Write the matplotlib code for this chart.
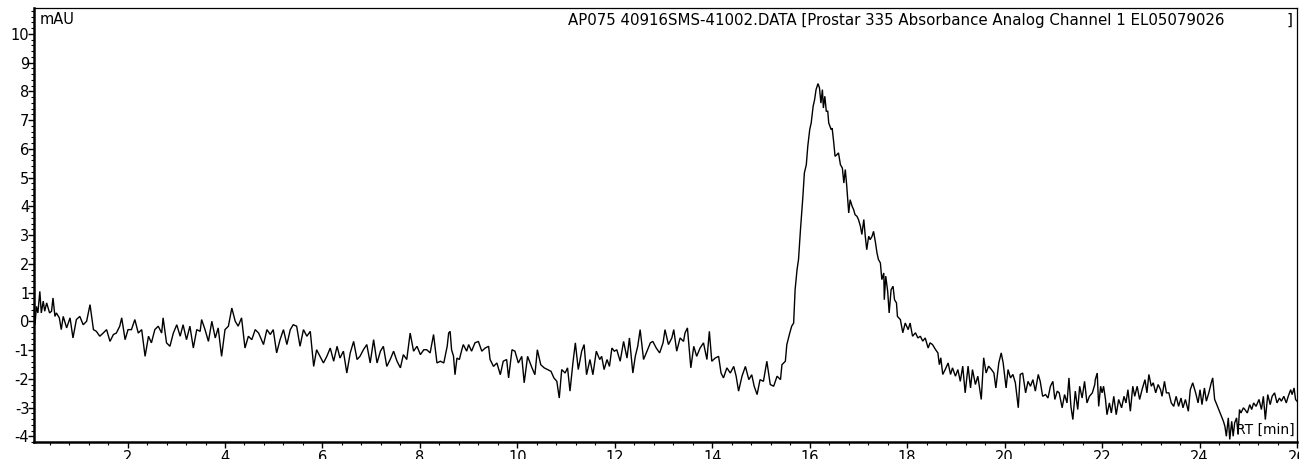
import matplotlib
matplotlib.use("Agg")
import matplotlib.pyplot as plt
from matplotlib.ticker import MultipleLocator, FixedLocator
import numpy as np

# ---------------- data ----------------
rt_seg1 = [0.06, 0.10, 0.13, 0.16, 0.20, 0.23, 0.27, 0.30, 0.34, 0.40,
           0.44, 0.47, 0.51, 0.54, 0.60, 0.64, 0.68, 0.75, 0.82, 0.88,
           0.95, 1.02, 1.09, 1.16, 1.23, 1.30, 1.36, 1.43, 1.50, 1.57,
           1.64, 1.71, 1.77, 1.84, 1.88, 1.95, 2.01, 2.08, 2.15, 2.22,
           2.29, 2.36, 2.43, 2.49, 2.56, 2.63, 2.70, 2.73, 2.80, 2.87,
           2.94, 3.01, 3.08, 3.14, 3.21, 3.28, 3.35, 3.42, 3.49, 3.52,
           3.59, 3.66, 3.73, 3.80, 3.86, 3.93, 4.00, 4.07, 4.14, 4.21,
           4.27, 4.34, 4.41, 4.48, 4.55, 4.62, 4.69, 4.79, 4.86, 4.93,
           4.99, 5.06, 5.13, 5.20, 5.27, 5.34, 5.40, 5.47, 5.54, 5.61,
           5.68, 5.75, 5.82, 5.88, 5.95, 6.02, 6.09, 6.16, 6.23, 6.30,
           6.36, 6.43, 6.50, 6.57, 6.64, 6.71, 6.77, 6.84, 6.91, 6.98,
           7.05, 7.12, 7.19, 7.25, 7.32, 7.39, 7.46, 7.53, 7.60, 7.66,
           7.73, 7.80, 7.87, 7.94, 8.01, 8.08, 8.14, 8.21, 8.28, 8.35,
           8.42, 8.49, 8.56, 8.59]
mau_seg1 = [0.41, -0.12, 0.52, 0.29, 1.04, 0.29, 0.70, 0.35, 0.64, 0.29,
            0.35, 0.81, 0.17, 0.29, 0.12, -0.29, 0.17, -0.23, 0.12, -0.58,
            0.06, 0.17, -0.12, 0.00, 0.58, -0.29, -0.35, -0.52, -0.41, -0.29,
            -0.70, -0.46, -0.41, -0.17, 0.12, -0.64, -0.29, -0.29, 0.06, -0.41,
            -0.29, -1.22, -0.52, -0.75, -0.29, -0.17, -0.41, 0.12, -0.75, -0.87,
            -0.41, -0.12, -0.52, -0.12, -0.64, -0.17, -0.93, -0.29, -0.35, 0.06,
            -0.29, -0.70, 0.00, -0.58, -0.23, -1.22, -0.29, -0.17, 0.46, 0.00,
            -0.17, 0.12, -0.93, -0.52, -0.64, -0.29, -0.41, -0.81, -0.29, -0.46,
            -0.29, -1.10, -0.64, -0.29, -0.81, -0.29, -0.12, -0.17, -0.87, -0.29,
            -0.52, -0.35, -1.57, -0.99, -1.22, -1.45, -1.22, -0.93, -1.39, -0.87,
            -1.28, -1.04, -1.80, -1.10, -0.70, -1.33, -1.22, -0.99, -0.81, -1.45,
            -0.64, -1.45, -1.04, -0.87, -1.57, -1.33, -1.04, -1.39, -1.62, -1.16,
            -1.33, -0.41, -1.04, -0.87, -1.16, -0.99, -0.99, -1.10, -0.46, -1.45,
            -1.39, -1.45, -0.87, -0.41]

rt_seg2 = [8.62, 8.65, 8.69, 8.72, 8.76, 8.81, 8.86, 8.89, 8.96, 9.00,
           9.06, 9.13, 9.20, 9.27, 9.34, 9.41, 9.44, 9.51, 9.58, 9.65,
           9.71, 9.78, 9.82, 9.89, 9.95, 10.02, 10.09, 10.14, 10.21, 10.30,
           10.36, 10.41, 10.48, 10.55, 10.62, 10.69, 10.75, 10.81, 10.86, 10.91,
           10.98, 11.03, 11.08, 11.14, 11.19, 11.25, 11.32, 11.37, 11.42, 11.49,
           11.55, 11.62, 11.69, 11.73, 11.78, 11.84, 11.89, 11.94, 11.99, 12.04,
           12.11, 12.18, 12.25, 12.30, 12.37, 12.42, 12.47, 12.52, 12.59, 12.66,
           12.73, 12.78, 12.85, 12.92, 12.99, 13.03, 13.10, 13.17, 13.21, 13.27,
           13.34, 13.41, 13.44, 13.49, 13.56, 13.62, 13.68, 13.75, 13.82, 13.89,
           13.94, 13.99, 14.06, 14.13, 14.18, 14.23, 14.30, 14.37, 14.44, 14.49,
           14.54, 14.61, 14.68, 14.75, 14.81, 14.86, 14.92, 14.98, 15.05, 15.12,
           15.19, 15.26, 15.33, 15.40, 15.43, 15.50, 15.53, 15.59, 15.63, 15.67]
mau_seg2 = [-0.35, -0.99, -1.22, -1.86, -1.28, -1.33, -0.99, -0.81, -1.04, -0.81,
            -1.04, -0.75, -0.70, -1.04, -0.93, -0.87, -1.33, -1.57, -1.45, -1.86,
            -1.39, -1.33, -1.97, -0.99, -1.04, -1.45, -1.22, -2.14, -1.22, -1.62,
            -1.86, -0.99, -1.51, -1.62, -1.68, -1.74, -1.97, -2.09, -2.67, -1.68,
            -1.80, -1.62, -2.43, -1.45, -0.75, -1.68, -1.04, -0.81, -1.86, -1.33,
            -1.86, -1.04, -1.33, -1.22, -1.68, -1.33, -1.57, -0.93, -1.04, -0.99,
            -1.39, -0.70, -1.28, -0.58, -1.80, -1.22, -0.87, -0.29, -1.33, -1.04,
            -0.75, -0.70, -0.93, -1.10, -0.75, -0.29, -0.81, -0.58, -0.29, -1.04,
            -0.58, -0.70, -0.41, -0.23, -1.62, -0.87, -1.22, -0.93, -0.75, -1.33,
            -0.35, -1.39, -1.28, -1.22, -1.80, -1.97, -1.62, -1.80, -1.57, -1.91,
            -2.43, -1.91, -1.57, -2.03, -1.86, -2.26, -2.55, -2.03, -2.09, -1.39,
            -2.20, -2.26, -1.91, -2.03, -1.51, -1.39, -0.81, -0.41, -0.17, -0.06]

rt_peak = [15.70, 15.74, 15.77, 15.81, 15.86, 15.89, 15.93, 15.96, 16.00, 16.03,
           16.07, 16.10, 16.13, 16.17, 16.20, 16.23, 16.26, 16.28, 16.31, 16.34,
           16.37, 16.39, 16.44, 16.46, 16.49, 16.52, 16.56, 16.59, 16.63, 16.67,
           16.70, 16.73, 16.76, 16.80, 16.83, 16.87, 16.90, 16.93, 16.97, 17.00,
           17.04, 17.07, 17.11, 17.14, 17.17, 17.21, 17.24, 17.28, 17.31, 17.35,
           17.38, 17.41, 17.45, 17.48, 17.52, 17.53, 17.56, 17.60, 17.63, 17.67,
           17.71, 17.74, 17.78, 17.80]
mau_peak = [1.10, 1.80, 2.15, 3.19, 4.35, 5.16, 5.45, 6.09, 6.67, 6.90,
            7.48, 7.71, 8.06, 8.27, 8.12, 7.59, 8.06, 7.42, 7.83, 7.31,
            7.31, 6.90, 6.67, 6.72, 6.26, 5.74, 5.80, 5.86, 5.45, 5.33,
            4.81, 5.28, 4.70, 3.77, 4.23, 4.00, 3.89, 3.71, 3.65, 3.54,
            3.31, 3.02, 3.54, 2.96, 2.49, 2.96, 2.84, 2.96, 3.13, 2.73,
            2.38, 2.15, 2.03, 1.45, 1.68, 0.75, 1.57, 1.04, 0.29, 1.10,
            1.22, 0.75, 0.64, 0.17]

rt_seg4 = [17.86, 17.91, 17.96, 18.02, 18.06, 18.11, 18.17, 18.22, 18.27, 18.32,
           18.37, 18.43, 18.47, 18.52, 18.58, 18.63, 18.66, 18.69, 18.73, 18.78,
           18.84, 18.89, 18.93, 18.99, 19.04, 19.09, 19.14, 19.19, 19.25, 19.30,
           19.34, 19.40, 19.45, 19.52, 19.57, 19.62, 19.67, 19.73, 19.78, 19.82,
           19.88, 19.93, 19.97, 20.03, 20.07, 20.12, 20.17, 20.22, 20.28, 20.32,
           20.37, 20.43, 20.48, 20.53, 20.58, 20.63, 20.69, 20.73, 20.78, 20.84,
           20.89, 20.94, 20.99, 21.03, 21.08, 21.12, 21.18, 21.23, 21.28, 21.32,
           21.36, 21.40, 21.45, 21.50, 21.54, 21.59, 21.64, 21.69, 21.74, 21.80,
           21.85]
mau_seg4 = [0.06, -0.40, -0.06, -0.29, -0.06, -0.52, -0.40, -0.58, -0.52, -0.69,
            -0.58, -0.93, -0.75, -0.81, -0.98, -1.10, -1.51, -1.27, -1.85, -1.68,
            -1.45, -1.85, -1.62, -1.91, -1.68, -2.09, -1.56, -2.49, -1.56, -2.32,
            -1.68, -2.20, -1.91, -2.72, -1.27, -1.80, -1.56, -1.68, -1.80, -2.32,
            -1.45, -1.10, -1.45, -2.32, -1.68, -1.97, -1.85, -2.14, -3.01, -1.85,
            -1.80, -2.49, -2.09, -2.26, -2.03, -2.43, -1.85, -2.09, -2.61, -2.55,
            -2.67, -2.26, -2.09, -2.72, -2.43, -2.49, -3.01, -2.55, -2.84, -1.97,
            -2.96, -3.42, -2.43, -3.07, -2.26, -2.67, -2.09, -2.84, -2.61, -2.49,
            -2.20]

rt_seg5 = [21.86, 21.90, 21.93, 21.97, 22.00, 22.03, 22.07, 22.10, 22.15, 22.19,
           22.24, 22.29, 22.34, 22.40, 22.45, 22.49, 22.53, 22.58, 22.63, 22.67,
           22.72, 22.77, 22.82, 22.88, 22.92, 22.96, 23.01, 23.05, 23.10, 23.15,
           23.20, 23.23, 23.28, 23.32, 23.37, 23.42, 23.47, 23.52, 23.57, 23.62,
           23.66, 23.71, 23.77, 23.81, 23.86, 23.92, 23.97, 24.01, 24.05, 24.10,
           24.14, 24.19, 24.24, 24.27, 24.31, 24.34, 24.38, 24.41, 24.45, 24.49,
           24.52, 24.55, 24.59, 24.62, 24.66, 24.69, 24.72, 24.76, 24.79, 24.82,
           24.85, 24.90, 24.93, 24.98, 25.03, 25.07, 25.11, 25.16, 25.22, 25.27,
           25.31, 25.35, 25.40, 25.45, 25.49, 25.54, 25.59, 25.64, 25.68, 25.73,
           25.78, 25.82, 25.87, 25.90, 25.94, 25.97, 26.00]
mau_seg5 = [-2.03, -1.80, -2.96, -2.26, -2.49, -2.26, -2.72, -3.25, -2.84, -3.19,
            -2.61, -3.25, -2.72, -3.01, -2.61, -2.84, -2.38, -3.13, -2.26, -2.61,
            -2.26, -2.72, -2.38, -2.03, -2.49, -1.85, -2.26, -2.14, -2.49, -2.20,
            -2.38, -2.61, -2.09, -2.49, -2.49, -2.84, -2.96, -2.61, -2.96, -2.67,
            -3.01, -2.72, -3.13, -2.38, -2.14, -2.49, -2.84, -2.38, -2.90, -2.32,
            -2.78, -2.49, -2.14, -1.97, -2.72, -2.84, -3.01, -3.13, -3.30, -3.48,
            -3.65, -4.00, -3.36, -4.11, -3.48, -4.00, -3.54, -3.36, -3.94, -3.07,
            -3.19, -3.01, -3.07, -3.19, -2.90, -3.07, -2.84, -2.96, -2.72, -3.07,
            -2.61, -3.42, -2.55, -2.90, -2.61, -2.49, -2.84, -2.67, -2.78, -2.61,
            -2.84, -2.61, -2.38, -2.55, -2.32, -2.72, -2.78]

x_tick_values = [2, 4, 6, 8, 10, 12, 14, 16, 18, 20, 22, 24, 26]
y_tick_values = [-4, -3, -2, -1, 0, 1, 2, 3, 4, 5, 6, 7, 8, 9, 10]

header_text = "AP075 40916SMS-41002.DATA [Prostar 335 Absorbance Analog Channel 1 EL05079026"
y_unit = "mAU"
x_unit = "RT [min]"

# ---------------- figure ----------------
plt.rcParams['font.family'] = ['DejaVu Sans']
plt.rcParams['axes.unicode_minus'] = False

W, H = 1299, 459
fig = plt.figure(figsize=(W / 100, H / 100), dpi=100)
left, right, top, bottom = 33.5, 1297.0, 8.0, 442.0
ax = fig.add_axes([left / W, 1 - bottom / H, (right - left) / W, (bottom - top) / H])

rt = np.concatenate([rt_seg1, rt_seg2, rt_peak, rt_seg4, rt_seg5])
mau = np.concatenate([mau_seg1, mau_seg2, mau_peak, mau_seg4, mau_seg5])
ax.plot(rt, mau, color='black', lw=1.0, solid_joinstyle='miter')

ax.set_xlim(0.07, 26.0)
ax.set_ylim(-4.2, 10.9)

ax.xaxis.set_major_locator(FixedLocator(x_tick_values))
ax.xaxis.set_minor_locator(MultipleLocator(0.4))
ax.yaxis.set_major_locator(FixedLocator(y_tick_values))
ax.yaxis.set_minor_locator(MultipleLocator(0.2))

ax.tick_params(axis='both', which='major', direction='out', length=4, width=1.0,
               labelsize=10.5, color='black')
ax.tick_params(axis='both', which='minor', direction='out', length=2, width=0.8,
               color='black')
ax.tick_params(axis='y', which='major', pad=-1)
ax.tick_params(axis='x', which='major', pad=2)

for side in ['left', 'bottom']:
    ax.spines[side].set_linewidth(1.8)
for side in ['top', 'right']:
    ax.spines[side].set_linewidth(0.9)

ax.text(40 / W, 1 - 20 / H, y_unit, transform=fig.transFigure, fontsize=10.5,
        ha='left', va='center')
ax.text(568 / W, 1 - 20 / H, header_text, transform=fig.transFigure, fontsize=10.8,
        ha='left', va='center')
ax.text(1292 / W, 1 - 20 / H, "]", transform=fig.transFigure, fontsize=10.8,
        ha='right', va='center')
ax.text(1295 / W, 1 - 430 / H, x_unit, transform=fig.transFigure, fontsize=10,
        ha='right', va='center')

fig.savefig("out.png", dpi=100)
